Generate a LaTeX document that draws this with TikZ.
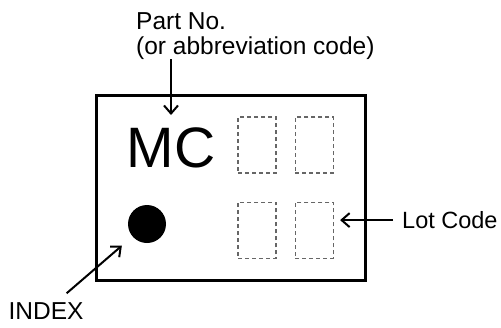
\documentclass[tikz,border=0pt]{standalone}
\usepackage{fontspec}
\setmainfont{Liberation Sans}
\usepackage{tikz}
\usetikzlibrary{positioning,arrows.meta}
\tikzstyle{chip} = [rectangle, draw=black, line width=3pt, minimum width=269pt, minimum height=185pt, inner sep=0pt]
\tikzstyle{label} = [inner sep=0pt, font=\fontsize{24.5}{25}\selectfont]
\tikzstyle{marking} = [inner sep=0pt, font=\fontsize{57}{60}\selectfont]
\tikzstyle{lotbox} = [rectangle, draw=black!60, dashed, dash pattern=on 4pt off 3pt, line width=1.4pt, minimum width=38pt, minimum height=56pt, inner sep=0pt]
\tikzstyle{dot} = [circle, fill=black, minimum size=38pt, inner sep=0pt]
\tikzstyle{arrow} = [line width=2pt, -{Straight Barb[length=8pt,width=14pt]}]

\begin{document}
\begin{tikzpicture}[x=1pt,y=-1pt]
	\useasboundingbox (0,0) rectangle (501,327);

	\node (chip) [chip] at (230.5,187.5) {};
	\node (mc) [marking, anchor=base] at (171,167) {MC};
	\node (partno) [label, anchor=north west, align=left] at (136,12) {Part No.\\(or abbreviation code)};

	\node (box1) [lotbox] at (257,145) {};
	\node (box2) [lotbox, right=18pt of box1] {};
	\node (box3) [lotbox, below=28pt of box1] {};
	\node (box4) [lotbox, right=18pt of box3] {};

	\node (dot) [dot] at (147,224) {};
	\node (lot) [label, font=\fontsize{23.5}{25}\selectfont, anchor=base west] at (402,228.5) {Lot Code};
	\node (index) [label, anchor=base] at (46,319.5) {INDEX};

	\draw [arrow] (partno.south -| mc.north) -- ([yshift=12pt]mc.north);
	\draw [arrow, shorten <=9pt, shorten >=6pt] (lot.west) -- (lot.west -| box4.east);
	\draw [arrow, shorten <=14pt, shorten >=14pt] (index) -- (dot);

\end{tikzpicture}
\end{document}
